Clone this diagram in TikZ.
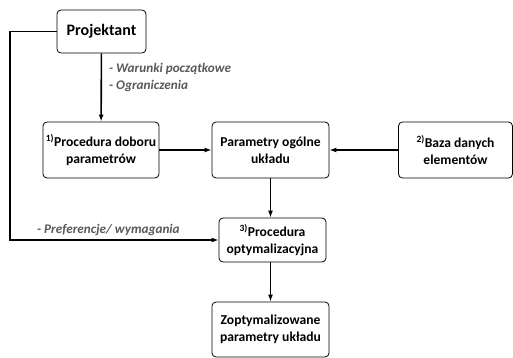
\documentclass[tikz,border=0pt]{standalone}
\usepackage{fontspec}
\setmainfont{Carlito}
\usetikzlibrary{arrows.meta}
\definecolor{lbl}{RGB}{89,89,89}
\begin{document}
\begin{tikzpicture}[x=1pt,y=-1pt,
  box/.style={draw,line width=0.8pt,rounded corners=4pt,align=center,font=\bfseries\fontsize{13.6}{17}\selectfont,inner sep=0pt},
  conn/.style={line width=1.6pt,-{Latex[length=7pt,width=5pt]}},
  note/.style={font=\bfseries\itshape\fontsize{13.2}{15}\selectfont,text=lbl,anchor=west,inner sep=0pt}]
\useasboundingbox (0,0) rectangle (513,358);
\node[box,minimum width=89pt,minimum height=43pt,font=\bfseries\fontsize{16}{18}\selectfont] (proj) at (101.5,31.5) {Projektant};
\node[box,minimum width=116pt,minimum height=56pt] (proc) at (101,150) {\textsuperscript{1)}Procedura doboru\\parametrów};
\node[box,minimum width=117pt,minimum height=56pt] (param) at (270.5,150) {Parametry ogólne\\układu};
\node[box,minimum width=114pt,minimum height=56pt] (baza) at (455.5,150) {\textsuperscript{2)}Baza danych\\elementów};
\node[box,minimum width=107pt,minimum height=44pt] (opt) at (272.5,240) {\textsuperscript{3)}Procedura\\optymalizacyjna};
\node[box,minimum width=117pt,minimum height=55pt] (zopt) at (270.5,329.5) {Zoptymalizowane\\parametry układu};
\coordinate (c1) at (10,31.5);
\coordinate (c2) at (10,240);
\draw[conn] (proj) -- (proc);
\draw[conn] (proc) -- (param);
\draw[conn] (baza) -- (param);
\draw[conn] (param.south) -- (param.south |- opt.north);
\draw[conn] (proj.west) -- (c1) -- (c2) -- (opt.west);
\draw[conn] (opt.south -| zopt.north) -- (zopt.north);
\node[note] (n1) at (109,69) {- Warunki początkowe};
\node[note] (n2) at (109,86) {- Ograniczenia};
\node[note] (n3) at (37,230) {- Preferencje/ wymagania};
\end{tikzpicture}
\end{document}
